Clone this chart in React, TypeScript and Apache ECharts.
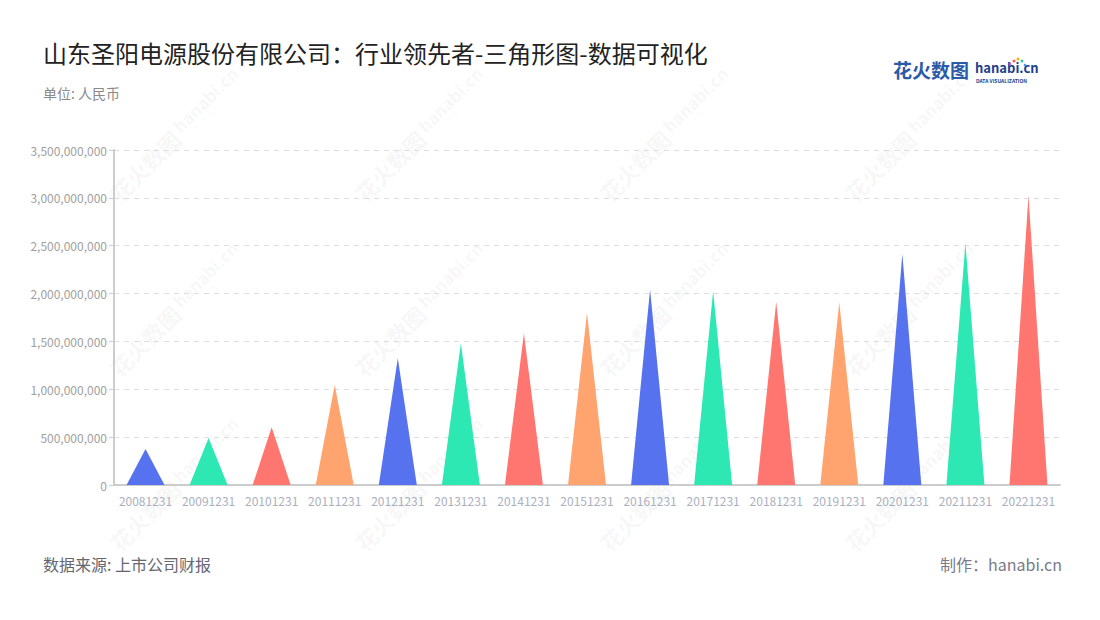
import React, { useEffect, useRef } from "react";
import * as echarts from "echarts";

const categories = [
  "20081231", "20091231", "20101231", "20111231", "20121231",
  "20131231", "20141231", "20151231", "20161231", "20171231",
  "20181231", "20191231", "20201231", "20211231", "20221231",
];
const values = [
  376000000, 491000000, 603000000, 1045000000, 1324000000,
  1480000000, 1585000000, 1800000000, 2044000000, 2027000000,
  1915000000, 1909000000, 2413000000, 2525000000, 3023000000,
];
const palette = ["#5772ef", "#2de8b3", "#ff7670", "#ffa46f"];

const TITLE = "山东圣阳电源股份有限公司：行业领先者-三角形图-数据可视化";
const SUBTITLE = "单位: 人民币";
const SOURCE = "数据来源: 上市公司财报";
const MAKER = "制作：hanabi.cn";

const FONT = '"Noto Sans CJK SC", "Noto Sans", sans-serif';

function watermark(cx: number, cy: number) {
  return {
    type: "group",
    x: cx,
    y: cy,
    rotation: Math.PI / 4,
    silent: true,
    z: 0,
    children: [
      {
        type: "text",
        x: -80,
        y: 0,
        style: {
          text: "花火数图",
          fill: "rgba(0,0,0,0.05)",
          font: `bold 22px ${FONT}`,
          textVerticalAlign: "middle",
        },
      },
      {
        type: "text",
        x: 12,
        y: -4,
        style: {
          text: "hanabi.cn",
          fill: "rgba(0,0,0,0.05)",
          font: `bold 17px ${FONT}`,
          textVerticalAlign: "middle",
        },
      },
      {
        type: "text",
        x: 13,
        y: 9,
        style: {
          text: "DATA VISUALIZATION",
          fill: "rgba(0,0,0,0.05)",
          font: `5px ${FONT}`,
          textVerticalAlign: "middle",
        },
      },
    ],
  };
}

export default function App() {
  const ref = useRef<HTMLDivElement>(null);

  useEffect(() => {
    document.body.style.margin = "0";
    if (!ref.current) return;
    const chart = echarts.init(ref.current, undefined, { renderer: "svg" });

    const wmCols = [170, 415, 660, 905];
    const wmRows = [140, 315, 490];
    const wms: any[] = [];
    wmRows.forEach((y) => wmCols.forEach((x) => wms.push(watermark(x, y))));

    chart.setOption({
      animation: false,
      backgroundColor: "#ffffff",
      textStyle: { fontFamily: FONT },
      grid: { left: 114, right: 40, top: 150, bottom: 135, containLabel: false },
      xAxis: {
        type: "category",
        data: categories,
        axisLine: { lineStyle: { color: "#cccccc", width: 2 } },
        axisTick: { alignWithLabel: true, lineStyle: { color: "#cccccc" }, length: 5 },
        axisLabel: { color: "#aab0be", fontSize: 12, margin: 9, interval: 0 },
      },
      yAxis: {
        type: "value",
        min: 0,
        max: 3500000000,
        interval: 500000000,
        axisLine: { show: true, lineStyle: { color: "#cccccc", width: 2 } },
        axisTick: { show: true, lineStyle: { color: "#cccccc" }, length: 5 },
        axisLabel: {
          color: "#a0a0a0",
          fontSize: 12,
          margin: 7,
          formatter: (v: number) => v.toLocaleString("en-US"),
        },
        splitLine: { lineStyle: { color: "#dddddd", type: [5, 5] } },
      },
      series: [
        {
          type: "pictorialBar",
          symbol: "path://M0,10 L10,10 L5,0 Z",
          symbolSize: [38, "100%"],
          z: 5,
          data: values.map((v, i) => ({
            value: v,
            itemStyle: { color: palette[i % palette.length] },
          })),
        },
      ],
      graphic: [
        ...wms,
        {
          type: "text",
          left: 43,
          top: 40,
          style: { text: TITLE, fill: "#222222", font: `24px ${FONT}` },
        },
        {
          type: "text",
          left: 43,
          top: 86,
          style: { text: SUBTITLE, fill: "#8a8a8a", font: `14px ${FONT}` },
        },
        {
          type: "text",
          left: 43,
          top: 556,
          style: { text: SOURCE, fill: "#666670", font: `16px ${FONT}` },
        },
        {
          type: "text",
          right: 38,
          top: 556,
          style: { text: MAKER, fill: "#7a7a8a", font: `16px ${FONT}` },
        },
        {
          type: "text",
          left: 893,
          top: 60,
          style: { text: "花火数图", fill: "#2b5aa8", font: `bold 19px ${FONT}` },
        },
        {
          type: "text",
          left: 975,
          top: 61,
          style: { text: "hanabi.cn", fill: "#1e3f8c", font: `bold 13px ${FONT}` },
        },
        {
          type: "text",
          left: 976,
          top: 78,
          style: { text: "DATA VISUALIZATION", fill: "#1e3f8c", font: `bold 5px ${FONT}` },
        },
        { type: "circle", shape: { cx: 1014, cy: 61, r: 1.5 }, style: { fill: "#ff5a5a" } },
        { type: "circle", shape: { cx: 1018, cy: 59, r: 1.5 }, style: { fill: "#ffb400" } },
        { type: "circle", shape: { cx: 1022, cy: 61, r: 1.5 }, style: { fill: "#2dc7a0" } },
        { type: "circle", shape: { cx: 1010, cy: 64, r: 1.3 }, style: { fill: "#a45af0" } },
        { type: "circle", shape: { cx: 1025, cy: 65, r: 1.3 }, style: { fill: "#3aa0ff" } },
      ],
    });

    return () => chart.dispose();
  }, []);

  return <div ref={ref} style={{ width: 1100, height: 620 }} />;
}
